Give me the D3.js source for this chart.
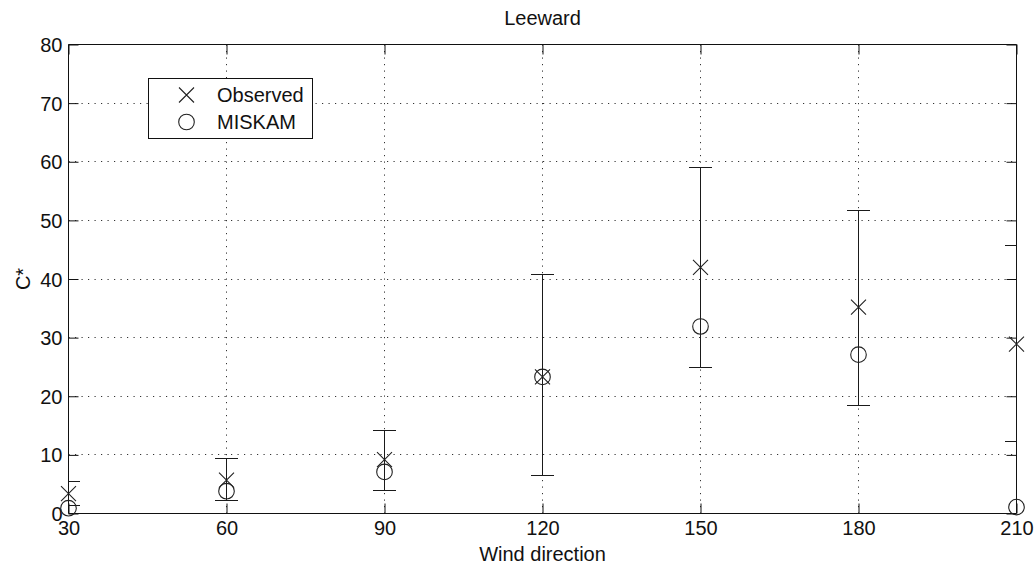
<!DOCTYPE html>
<html>
<head>
<meta charset="utf-8">
<script src="https://cdn.jsdelivr.net/npm/d3@7"></script>
<style>
  html, body { margin: 0; padding: 0; background: #fff; }
  svg { display: block; }
  text { font-family: "Liberation Sans", Arial, sans-serif; fill: #111; }
</style>
</head>
<body>
<svg id="chart" width="1035" height="568"></svg>
<script>
const directions = [30, 60, 90, 120, 150, 180, 210];
const observed   = [3.4, 5.7, 9.2, 23.3, 42.0, 35.2, 28.9];
const miskam     = [0.9, 3.8, 7.1, 23.3, 31.9, 27.1, 1.1];
const errLow     = [1.4, 2.2, 4.0, 6.4, 24.9, 18.4, 12.3];
const errHigh    = [5.5, 9.3, 14.2, 40.7, 59.1, 51.6, 45.7];
const xTicks = [30, 60, 90, 120, 150, 180, 210];
const yTicks = [0, 10, 20, 30, 40, 50, 60, 70, 80];
const title = "Leeward";
const xLabel = "Wind direction";
const yLabel = "C*";
const legendLabels = ["Observed", "MISKAM"];

const L = 68.5, R = 1016.5, T = 44.5, B = 513.5;
const svg = d3.select("#chart");
const x = d3.scaleLinear().domain([30, 210]).range([L, R]);
const y = d3.scaleLinear().domain([0, 80]).range([B, T]);
const px = v => Math.round(v - 0.5) + 0.5;
const FS = 20;
const ink = "#111";

// clip
svg.append("defs").append("clipPath").attr("id", "plotclip")
  .append("rect").attr("x", L).attr("y", T).attr("width", R - L).attr("height", B - T);

// grid
const grid = svg.append("g").attr("stroke", "#333").attr("stroke-width", 1)
  .attr("stroke-dasharray", "1.2,5.3");
grid.selectAll("line.gx").data(xTicks.slice(1, -1)).join("line")
  .attr("x1", d => px(x(d))).attr("x2", d => px(x(d)))
  .attr("y1", T).attr("y2", B);
grid.selectAll("line.gy").data(yTicks.slice(1, -1)).join("line")
  .attr("y1", d => px(y(d))).attr("y2", d => px(y(d)))
  .attr("x1", L).attr("x2", R);

// axes (MATLAB style: ticks inward, box)
const tickLen = 10;
const axB = svg.append("g").attr("transform", `translate(0,${B})`)
  .call(d3.axisBottom(x).tickValues(xTicks).tickSize(-tickLen).tickPadding(7).tickFormat(d3.format("d")));
const axT = svg.append("g").attr("transform", `translate(0,${T})`)
  .call(d3.axisTop(x).tickValues(xTicks).tickSize(-tickLen).tickFormat(""));
const axL = svg.append("g").attr("transform", `translate(${L},0)`)
  .call(d3.axisLeft(y).tickValues(yTicks).tickSize(-tickLen).tickPadding(6).tickFormat(d3.format("d")));
const axR = svg.append("g").attr("transform", `translate(${R},0)`)
  .call(d3.axisRight(y).tickValues(yTicks).tickSize(-tickLen).tickFormat(""));
[axB, axT, axL, axR].forEach(a => {
  a.select(".domain").attr("stroke", ink).attr("stroke-width", 1);
  a.selectAll(".tick line").attr("stroke", ink);
  a.selectAll("text").attr("font-size", FS).attr("font-family", "Liberation Sans, Arial, sans-serif").attr("fill", "#222");
});
axB.select(".domain").attr("d", `M${L},0H${R}`);
axT.select(".domain").attr("d", `M${L},0H${R}`);
axL.select(".domain").attr("d", `M0,${T}V${B}`);
axR.select(".domain").attr("d", `M0,${T}V${B}`);
axB.selectAll("text").attr("dy", "0.71em");
axL.selectAll("text").attr("dy", "0.35em");

// error bars
const capHalf = 11.5;
const eb = svg.append("g").attr("clip-path", "url(#plotclip)").attr("stroke", "#1a1a1a").attr("stroke-width", 1);
const ebData = directions.map((d, i) => ({ d, lo: errLow[i], hi: errHigh[i] }));
eb.selectAll("line.v").data(ebData).join("line")
  .attr("x1", e => px(x(e.d))).attr("x2", e => px(x(e.d)))
  .attr("y1", e => px(y(e.lo))).attr("y2", e => px(y(e.hi)));
eb.selectAll("line.lo").data(ebData).join("line")
  .attr("x1", e => px(x(e.d)) - capHalf).attr("x2", e => px(x(e.d)) + capHalf)
  .attr("y1", e => px(y(e.lo))).attr("y2", e => px(y(e.lo)));
eb.selectAll("line.hi").data(ebData).join("line")
  .attr("x1", e => px(x(e.d)) - capHalf).attr("x2", e => px(x(e.d)) + capHalf)
  .attr("y1", e => px(y(e.hi))).attr("y2", e => px(y(e.hi)));

// markers
const xs = 7.5, cr = 7.8;
function xMark(g, cx, cy) {
  g.append("path").attr("d", `M${cx - xs},${cy - xs}L${cx + xs},${cy + xs}M${cx - xs},${cy + xs}L${cx + xs},${cy - xs}`)
    .attr("stroke", "#222").attr("stroke-width", 1.1).attr("fill", "none");
}
function oMark(g, cx, cy) {
  g.append("circle").attr("cx", cx).attr("cy", cy).attr("r", cr)
    .attr("stroke", "#222").attr("stroke-width", 1.1).attr("fill", "none");
}
const mk = svg.append("g");
directions.forEach((d, i) => xMark(mk, x(d), y(observed[i])));
directions.forEach((d, i) => oMark(mk, x(d), y(miskam[i])));

// legend
const lg = svg.append("g");
lg.append("rect").attr("x", 148.5).attr("y", 78.5).attr("width", 164).attr("height", 60)
  .attr("fill", "#fff").attr("stroke", ink).attr("stroke-width", 1);
xMark(lg, 186.5, 95);
oMark(lg, 186.5, 122);
lg.append("text").attr("x", 217).attr("y", 95).attr("dy", "0.35em").attr("font-size", FS).text(legendLabels[0]);
lg.append("text").attr("x", 217).attr("y", 122).attr("dy", "0.35em").attr("font-size", FS).text(legendLabels[1]);

// titles
svg.append("text").attr("x", (L + R) / 2).attr("y", 25).attr("text-anchor", "middle").attr("font-size", FS).text(title);
svg.append("text").attr("x", (L + R) / 2).attr("y", 561).attr("text-anchor", "middle").attr("font-size", FS).text(xLabel);
svg.append("text").attr("transform", `translate(30,${(T + B) / 2}) rotate(-90)`).attr("text-anchor", "middle")
  .attr("font-size", FS).text(yLabel);
</script>
</body>
</html>
